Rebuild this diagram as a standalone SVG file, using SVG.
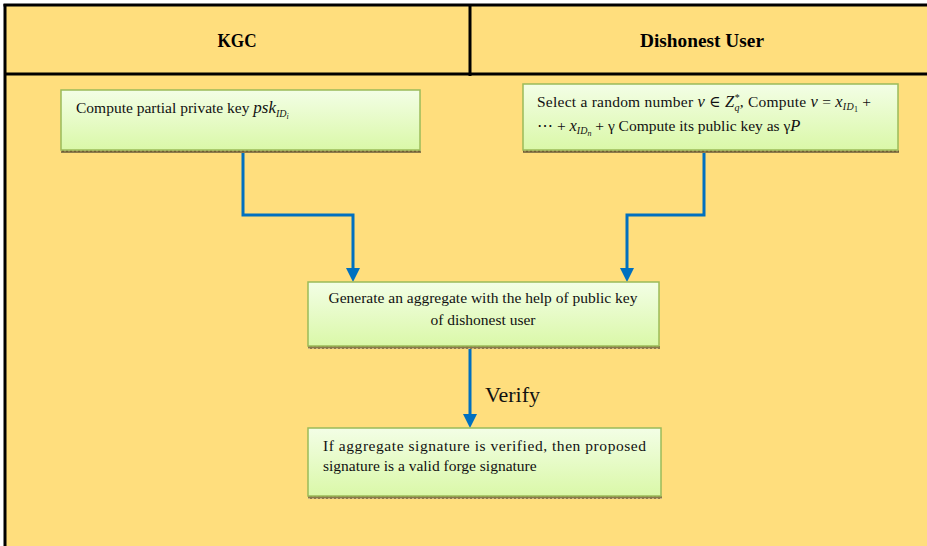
<svg xmlns="http://www.w3.org/2000/svg" width="927" height="546" viewBox="0 0 927 546">
<defs>
<linearGradient id="g" x1="0" y1="0" x2="0" y2="1">
<stop offset="0" stop-color="#F3FEE6"/>
<stop offset="1" stop-color="#DAF8A8"/>
</linearGradient>
<pattern id="hatch" width="4" height="3" patternUnits="userSpaceOnUse">
<rect width="4" height="3" fill="#8C7A4A"/>
<rect x="0" y="0" width="2" height="1" fill="#C9B783"/>
<rect x="2" y="1" width="2" height="1" fill="#6E5E34"/>
</pattern>
<style>
.box{fill:url(#g);stroke:#9BBB59;stroke-width:1.5}
.sh{fill:url(#hatch)}
.t{font-family:"Liberation Serif","Times New Roman","DejaVu Serif",serif;font-size:15.5px;fill:#111}
.h{font-family:"Liberation Serif","Times New Roman","DejaVu Serif",serif;font-size:18px;font-weight:bold;fill:#000}
.m{font-style:italic}
.c{fill:none;stroke:#0070C0;stroke-width:3}
.line{stroke:#000;stroke-width:3}
</style>
</defs>
<rect x="0" y="0" width="927" height="546" fill="#FFFFFF"/>
<rect x="5" y="5" width="922" height="541" fill="#FFDE7D"/>
<g id="frame">
<line class="line" x1="3.5" y1="5" x2="927" y2="5"/>
<line class="line" x1="5" y1="4" x2="5" y2="546"/>
<line class="line" x1="5" y1="74" x2="927" y2="74"/>
<line class="line" x1="470" y1="5" x2="470" y2="76"/>
</g>
<g id="header-kgc"><text class="h" x="237" y="47" text-anchor="middle" textLength="39" lengthAdjust="spacingAndGlyphs">KGC</text></g>
<g id="header-user"><text class="h" x="702" y="47" text-anchor="middle" textLength="124" lengthAdjust="spacingAndGlyphs">Dishonest User</text></g>

<g id="connectors">
<polyline class="c" points="243,151 243,215 353,215 353,270"/>
<polyline class="c" points="704,151 704,215 627,215 627,270"/>
<line class="c" x1="470" y1="347" x2="470" y2="416"/>
<path d="M346,268 L360,268 L353,282 Z" fill="#0070C0"/>
<path d="M620,268 L634,268 L627,282 Z" fill="#0070C0"/>
<path d="M463,414 L477,414 L470,428 Z" fill="#0070C0"/>
<text class="t" x="485" y="402" style="font-size:22px">Verify</text>
</g>

<g id="node-kgc">
<rect class="sh" x="61" y="150" width="360" height="3"/>
<rect class="box" x="61" y="90" width="359" height="60"/>
<text class="t" x="76" y="113">Compute partial private key <tspan class="m" font-size="17">psk</tspan><tspan class="m" font-size="10" dy="4">ID</tspan><tspan class="m" font-size="8" dy="2">i</tspan></text>
</g>

<g id="node-user">
<rect class="sh" x="523" y="150" width="376" height="3"/>
<rect class="box" x="523" y="84" width="375" height="66"/>
<text class="t" x="537" y="107" textLength="334" lengthAdjust="spacing">Select a random number <tspan class="m" font-size="16.5">v</tspan> ∈ <tspan class="m" font-size="16.5">Z</tspan><tspan class="m" font-size="10" dy="-6">*</tspan><tspan class="m" font-size="10" dx="-5" dy="10">q</tspan><tspan dy="-4">, Compute </tspan><tspan class="m" font-size="16.5">v</tspan> = <tspan class="m" font-size="16.5">x</tspan><tspan class="m" font-size="10" dy="3">ID</tspan><tspan font-size="8" dy="2">1</tspan><tspan dy="-5"> +</tspan></text>
<text class="t" x="537" y="131">⋯ + <tspan class="m" font-size="16.5">x</tspan><tspan class="m" font-size="10" dy="3">ID</tspan><tspan class="m" font-size="8" dy="2">n</tspan><tspan dy="-5"> + γ Compute its public key as γ</tspan><tspan class="m" font-size="16.5">P</tspan></text>
</g>

<g id="node-aggregate">
<rect class="sh" x="308" y="346" width="352" height="3"/>
<rect class="box" x="308" y="282" width="351" height="64"/>
<text class="t" x="483" y="303" text-anchor="middle">Generate an aggregate with the help of public key</text>
<text class="t" x="483" y="325" text-anchor="middle">of dishonest user</text>
</g>

<g id="node-verify">
<rect class="sh" x="308" y="496" width="354" height="3"/>
<rect class="box" x="308" y="428" width="353" height="68"/>
<text class="t" x="323" y="451" textLength="323" lengthAdjust="spacing">If aggregate signature is verified, then proposed</text>
<text class="t" x="323" y="471">signature is a valid forge signature</text>
</g>
</svg>
